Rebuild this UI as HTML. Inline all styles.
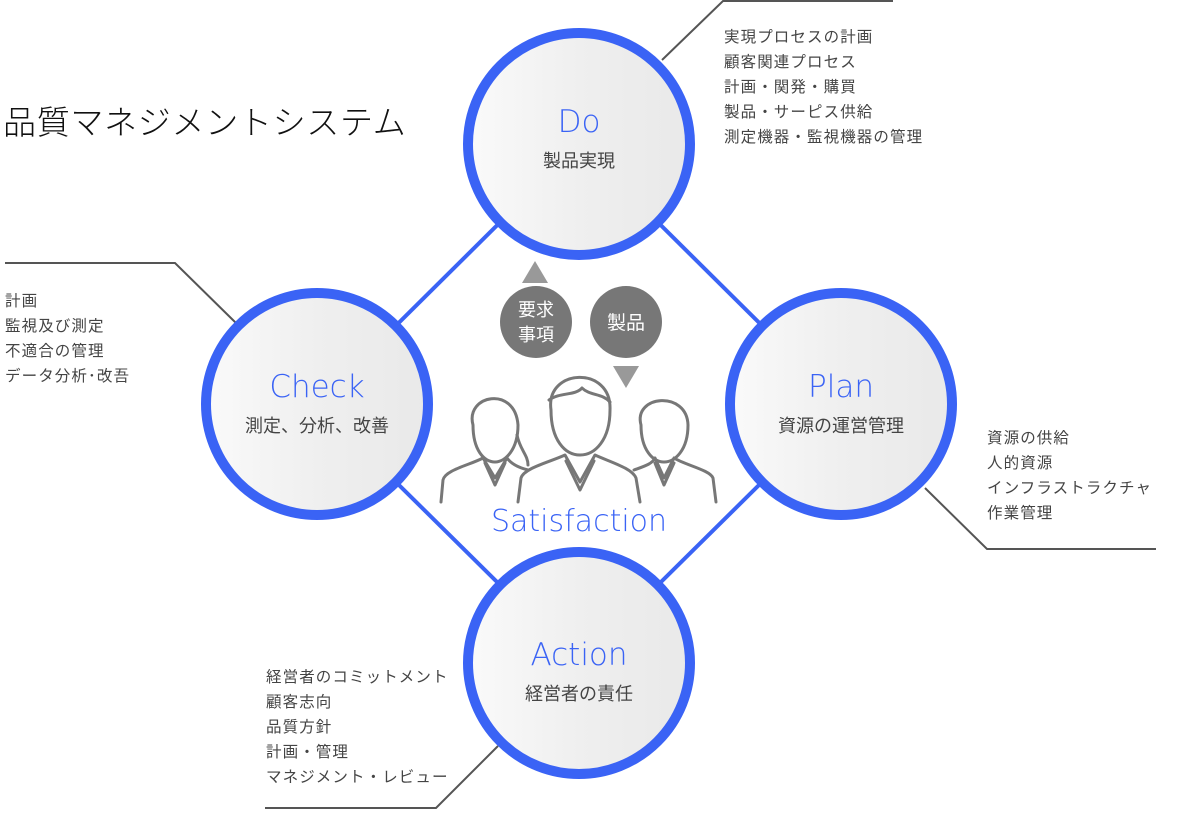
<!DOCTYPE html>
<html><head><meta charset="utf-8"><style>
body{margin:0;width:1200px;height:819px;background:#fff;overflow:hidden;position:relative;font-family:"Liberation Sans","Noto Sans CJK JP",sans-serif}
.t{position:absolute;white-space:nowrap}
.list{position:absolute;font-size:15.5px;line-height:25px;color:#444;font-family:"Noto Sans CJK JP",sans-serif;letter-spacing:1.1px}
.lab{position:absolute;text-align:center;width:232px}
.en{color:#3a63f5;font-size:31px;font-family:"DejaVu Sans","Liberation Sans",sans-serif;font-weight:300}
.jp{color:#444;font-size:18px;font-family:"Noto Sans CJK JP",sans-serif;margin-top:7px}
</style></head><body>
<svg width="1200" height="819" style="position:absolute;left:0;top:0">
<defs><linearGradient id="g" x1="0" x2="1" y1="0" y2="0"><stop offset="0" stop-color="#fafafa"/><stop offset="0.5" stop-color="#efefef"/><stop offset="1" stop-color="#e9e9e9"/></linearGradient></defs>
<g stroke="#3a63f5" stroke-width="4">
<line x1="579" y1="144" x2="317" y2="404"/><line x1="579" y1="144" x2="841" y2="404"/>
<line x1="317" y1="404" x2="579" y2="663"/><line x1="841" y1="404" x2="579" y2="663"/>
</g>
<g stroke="#555" stroke-width="2" fill="none">
<polyline points="662,60 723,1 893,1"/>
<polyline points="925,488 987,549 1156,549"/>
<polyline points="5,263 175,263 236,323"/>
<polyline points="265,808 436,808 498,746"/>
</g>
<g stroke="#3a63f5" stroke-width="10" fill="url(#g)">
<circle cx="579" cy="144" r="111"/><circle cx="317" cy="404" r="111"/>
<circle cx="841" cy="404" r="111"/><circle cx="579" cy="663" r="111"/>
</g>
<circle cx="536" cy="322" r="36" fill="#777"/><circle cx="626" cy="322" r="36" fill="#777"/>
<polygon points="535,261 548,283 522,283" fill="#999"/>
<polygon points="613,366 639,366 626,388" fill="#999"/>
<g stroke="#777" stroke-width="3" fill="none" stroke-linejoin="round" stroke-linecap="round">
<path d="M473,425 C465,395 515,385 518,425 C518,450 505,462 495,462 C484,462 473,450 473,425Z"/>
<path d="M441,502 L443,480 C445,470 470,465 483,458 L495,478 L507,458 C512,465 520,468 528,470"/>
<path d="M485,463 L495,485 L505,463"/>
<path d="M517,435 C520,450 528,455 528,465"/>
<path d="M641,425 C633,395 687,390 688,425 C688,450 675,462 664,462 C653,462 641,450 641,425Z"/>
<path d="M634,470 C645,466 652,464 655,458 L664,478 L674,458 C685,465 710,470 713,478 L716,502"/>
<path d="M655,463 L664,485 L674,463"/>
<path d="M551,410 C545,368 612,365 610,410 C610,440 595,455 580,455 C565,455 551,440 551,410Z"/>
<path d="M518,502 L521,478 C524,468 550,462 565,455 L580,482 L595,455 C610,462 632,468 636,478 L640,502"/>
<path d="M566,461 L580,490 L594,461"/>
<path d="M549,400 C560,392 575,396 582,388 C590,396 602,393 610,402"/>
</g>
</svg>
<div class="t" style="left:3px;top:96px;font-size:33px;letter-spacing:0.7px;color:#111;font-family:'Noto Sans CJK JP',sans-serif;font-weight:300;line-height:48px">品質マネジメントシステム</div>
<div class="lab" style="left:463px;top:104px"><div class="en">Do</div><div class="jp">製品実現</div></div>
<div class="lab" style="left:201px;top:369px"><div class="en">Check</div><div class="jp">測定、分析、改善</div></div>
<div class="lab" style="left:725px;top:369px"><div class="en">Plan</div><div class="jp">資源の運営管理</div></div>
<div class="lab" style="left:463px;top:637px"><div class="en">Action</div><div class="jp">経営者の責任</div></div>
<div class="t" style="left:479px;top:504px;width:200px;text-align:center;font-size:30px;color:#3a63f5;font-family:'DejaVu Sans',sans-serif;font-weight:300">Satisfaction</div>
<div class="t" style="left:500px;top:297px;width:72px;text-align:center;color:#fff;font-size:18px;line-height:25px;font-family:'Noto Sans CJK JP',sans-serif">要求<br>事項</div>
<div class="t" style="left:590px;top:309px;width:72px;text-align:center;color:#fff;font-size:19px;line-height:25px;font-family:'Noto Sans CJK JP',sans-serif">製品</div>
<div class="list" style="left:724px;top:24px">実現プロセスの計画<br>顧客関連プロセス<br>計画・関発・購買<br>製品・サーピス供給<br>測定機器・監視機器の管理</div>
<div class="list" style="left:987px;top:425px">資源の供給<br>人的資源<br>インフラストラクチャ<br>作業管理</div>
<div class="list" style="left:5px;top:288px">計画<br>監視及び測定<br>不適合の管理<br>データ分析･改吾</div>
<div class="list" style="left:266px;top:664px">経営者のコミットメント<br>顧客志向<br>品質方針<br>計画・管理<br>マネジメント・レビュー</div>
</body></html>
